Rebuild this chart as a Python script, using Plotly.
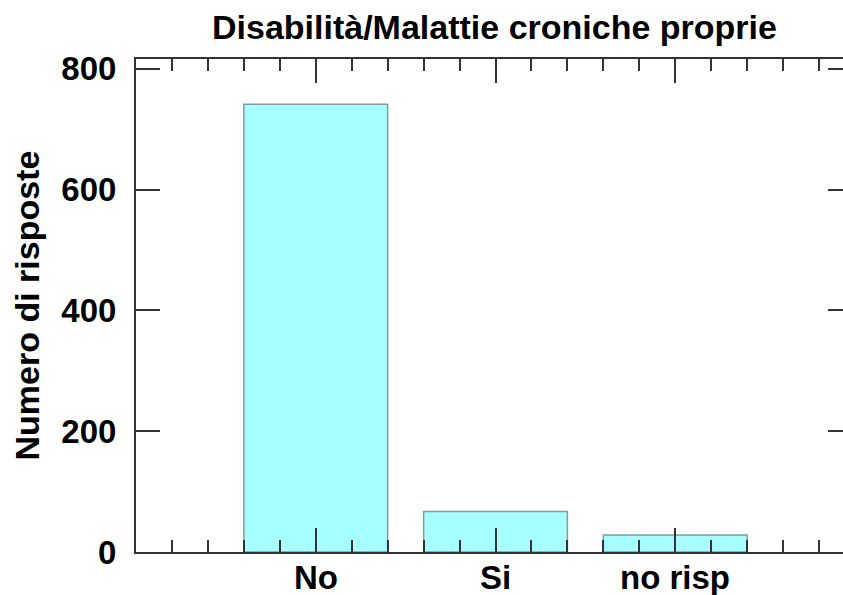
import plotly.graph_objects as go

categories = ["No", "Si", "no risp"]
values = [741, 67, 28]
y_ticks = [0, 200, 400, 600, 800]
title_text = "Disabilità/Malattie croniche proprie"
y_title = "Numero di risposte"

xpos = list(range(len(categories)))
FONT = "Liberation Sans"
LINE = "#333333"

fig = go.Figure()
fig.add_trace(go.Bar(
    x=xpos, y=values, width=0.8,
    marker=dict(color="#a8ffff", line=dict(color="rgba(110,140,140,0.85)", width=1.5)),
    showlegend=False, hoverinfo="skip",
))
fig.add_trace(go.Scatter(x=[None], y=[None], xaxis="x2", yaxis="y2", showlegend=False))

xr = [-1, 2.933]
yr = [0, 816]

annotations = [
    dict(text=title_text, xref="paper", yref="paper", x=(494 - 136) / (843 - 136),
         y=1, yshift=32, xanchor="center", yanchor="middle", showarrow=False,
         font=dict(family=FONT, size=34, weight="bold")),
    dict(text=y_title, xref="paper", yref="paper", x=0, xshift=26 - 136, y=0.5,
         xanchor="center", yanchor="middle", textangle=-90, showarrow=False,
         font=dict(family=FONT, size=34, weight="bold")),
]
for xp, lab in zip(xpos, categories):
    annotations.append(dict(text=lab, xref="x", yref="paper", x=xp, y=0, yshift=-5,
                            xanchor="center", yanchor="top", showarrow=False,
                            font=dict(family=FONT, size=33, weight="bold")))

fig.update_layout(
    width=843, height=595,
    margin=dict(l=136, r=0, t=59, b=43, autoexpand=False),
    plot_bgcolor="white", paper_bgcolor="white",
    font=dict(family=FONT, size=33, color="black", weight="bold"),
    xaxis=dict(
        range=xr, tickmode="array", tickvals=xpos, automargin=False, showticklabels=False,
        ticks="inside", ticklen=24, tickwidth=2, tickcolor=LINE,
        minor=dict(tick0=-1, dtick=0.2, ticks="inside", ticklen=12, tickwidth=2, tickcolor=LINE),
        showline=True, linecolor=LINE, linewidth=2, showgrid=False, zeroline=False,
    ),
    xaxis2=dict(
        range=xr, overlaying="x", side="top", tickmode="array", tickvals=xpos, automargin=False,
        ticks="inside", ticklen=24, tickwidth=2, tickcolor=LINE, showticklabels=False,
        minor=dict(tick0=-1, dtick=0.2, ticks="inside", ticklen=12, tickwidth=2, tickcolor=LINE),
        showline=True, linecolor=LINE, linewidth=2, showgrid=False, zeroline=False,
    ),
    yaxis=dict(
        range=yr, tickmode="array", tickvals=y_ticks, automargin=False,
        ticks="inside", ticklen=24, tickwidth=2, tickcolor=LINE,
        showline=True, linecolor=LINE, linewidth=2, showgrid=False, zeroline=False,
        tickfont=dict(family=FONT, size=33, weight="bold"), ticklabelstandoff=11,
    ),
    yaxis2=dict(
        range=yr, overlaying="y", side="right", anchor="x", tickmode="array", tickvals=y_ticks,
        automargin=False,
        ticks="inside", ticklen=15, tickwidth=2, tickcolor=LINE, showticklabels=False,
        showline=False, showgrid=False, zeroline=False,
    ),
    annotations=annotations,
)

fig.write_html("out.html", config={"displayModeBar": False},
               post_script="document.body.style.margin='0';")
